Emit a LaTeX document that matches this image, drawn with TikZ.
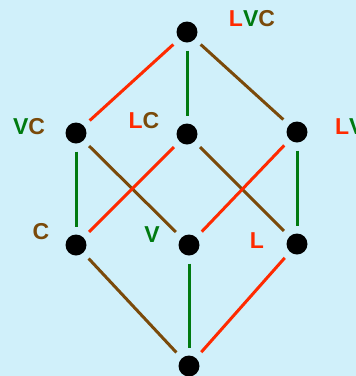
\documentclass[tikz,border=0pt]{standalone}
\usepackage{fontspec}
\setmainfont{Liberation Sans}
\definecolor{bg}{HTML}{D0F0FA}
\definecolor{cred}{HTML}{FF2A00}
\definecolor{cgreen}{HTML}{007A10}
\definecolor{cbrown}{HTML}{7A4A0A}
\begin{document}
\begin{tikzpicture}[x=1pt,y=-1pt,
  dot/.style={circle,fill=black,minimum size=21pt,inner sep=0pt,outer sep=8pt},
  lab/.style={font=\fontsize{23}{25}\selectfont\bfseries,inner sep=0pt},
  edge/.style={line width=3pt}]
\clip (0,0) rectangle (356,376);
\fill[bg] (0,0) rectangle (356,376);
\node[dot] (top) at (187,32) {};
\node[dot] (vc) at (76,133) {};
\node[dot] (lc) at (187,134) {};
\node[dot] (lv) at (297,132) {};
\node[dot] (c) at (76,245) {};
\node[dot] (v) at (189,245) {};
\node[dot] (l) at (297,244) {};
\node[dot] (bot) at (189,366) {};
\node[lab] (tlvc) at (252,19) {\textcolor{cred}{L}\textcolor{cgreen}{V}\textcolor{cbrown}{C}};
\node[lab] (tvc) at (29,127) {\textcolor{cgreen}{V}\textcolor{cbrown}{C}};
\node[lab] (tlc) at (144,121) {\textcolor{cred}{L}\textcolor{cbrown}{C}};
\node[lab,anchor=west] (tlv) at (335,127) {\textcolor{cred}{L}\textcolor{cgreen}{V}};
\node[lab] (tc) at (41,232) {\textcolor{cbrown}{C}};
\node[lab] (tv) at (152,235) {\textcolor{cgreen}{V}};
\node[lab] (tl) at (257,241) {\textcolor{cred}{L}};
\draw[edge,cred] (top) -- (vc);
\draw[edge,cgreen] (top) -- (lc);
\draw[edge,cbrown] (top) -- (lv);
\draw[edge,cgreen] (vc) -- (c);
\draw[edge,cbrown] (vc) -- (v);
\draw[edge,cred] (lc) -- (c);
\draw[edge,cbrown] (lc) -- (l);
\draw[edge,cred] (lv) -- (v);
\draw[edge,cgreen] (lv) -- (l);
\draw[edge,cbrown] (c) -- (bot);
\draw[edge,cgreen] (v) -- (bot);
\draw[edge,cred] (l) -- (bot);
\end{tikzpicture}
\end{document}
